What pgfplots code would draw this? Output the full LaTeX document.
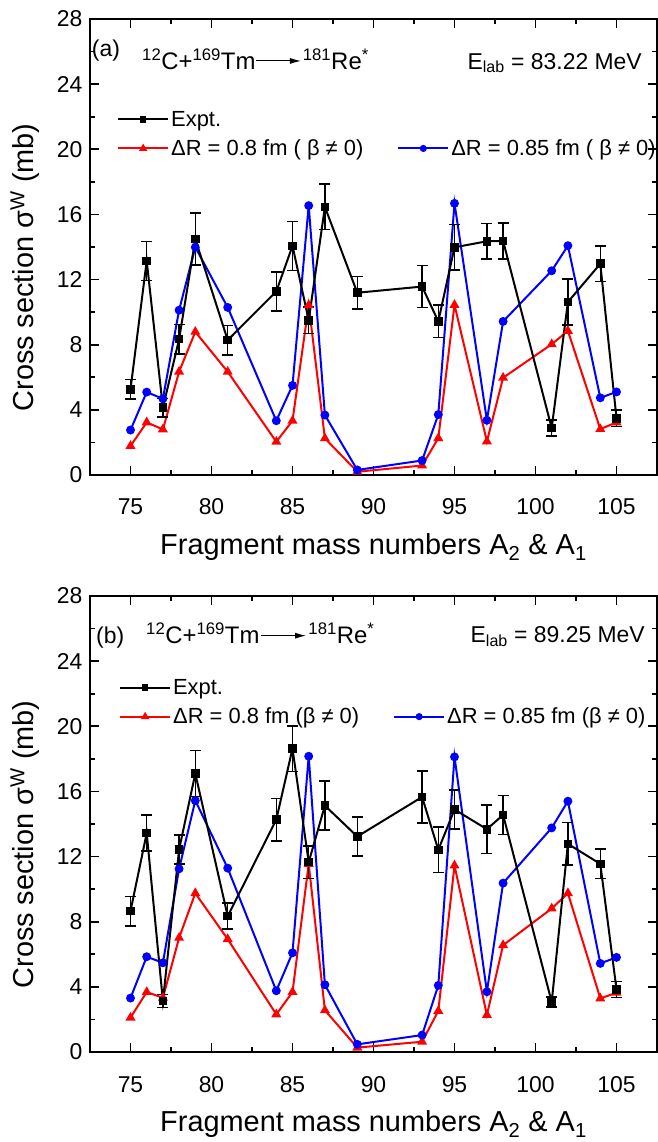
\documentclass[border=0pt]{standalone}
\usepackage{fontspec}
\setmainfont{Liberation Sans}
\usepackage{pgfplots}
\usepackage{pgfplotstable}
\pgfplotsset{compat=1.18}
\usetikzlibrary{arrows.meta}

% A: mass number, e: expt, ee: error, r: dR=0.8, b: dR=0.85
\pgfplotstableread{
A e ee r b
75 5.26 0.6 1.78 2.76
76 13.15 1.2 3.23 5.09
77 4.13 0.58 2.80 4.68
78 8.34 0.9 6.34 10.12
79 14.48 1.6 8.79 13.99
81 8.28 0.9 6.34 10.29
84 11.27 1.2 2.04 3.33
85 14.07 1.5 3.33 5.50
86 9.5 0.8 10.43 16.54
87 16.46 1.4 2.25 3.68
89 11.19 1.0 0.20 0.31
93 11.57 1.3 0.58 0.89
94 9.43 1.0 2.26 3.71
95 13.98 1.4 10.44 16.68
97 14.35 1.1 2.06 3.36
98 14.37 1.1 5.97 9.43
101 2.88 0.5 8.03 12.54
102 10.62 1.4 8.85 14.08
104 12.97 1.1 2.82 4.74
105 3.48 0.5 3.23 5.10
}\dataA

\pgfplotstableread{
A e ee r b
75 8.65 0.9 2.11 3.31
76 13.44 1.1 3.68 5.85
77 3.13 0.4 3.33 5.48
78 12.43 0.9 7.01 11.25
79 17.10 1.4 9.75 15.44
81 8.34 0.8 6.93 11.29
84 14.27 1.3 2.31 3.76
85 18.63 1.4 3.68 6.09
86 11.66 1.0 11.55 18.16
87 15.13 1.5 2.56 4.13
89 13.23 1.2 0.27 0.47
93 15.66 1.6 0.63 1.04
94 12.41 1.4 2.52 4.09
95 14.89 1.2 11.45 18.12
97 13.68 1.5 2.27 3.70
98 14.56 1.2 6.56 10.37
101 3.07 0.3 8.81 13.76
102 12.78 1.3 9.75 15.40
104 11.55 0.9 3.29 5.44
105 3.84 0.5 3.64 5.81
}\dataB

\tikzset{annot/.style={font=\fontsize{23}{27}\selectfont, inner sep=0pt},
         reac/.style={font=\fontsize{24}{28}\selectfont, inner sep=0pt}}
\pgfplotsset{
  myaxis/.style={
    scale only axis, width=567bp, height=456bp,
    xmin=72.5, xmax=107.5, ymin=0, ymax=28,
    xtick={75,80,...,105}, ytick={0,4,...,28},
    minor x tick num=1, minor y tick num=1,
    tick align=inside, xtick pos=both, ytick pos=both,
    xticklabel pos=lower, yticklabel pos=left,
    major tick length=9bp, minor tick length=5bp,
    axis line style={line width=1.8bp},
    tick style={line width=1.6bp, black},
    tick label style={font=\fontsize{23}{27}\selectfont},
    /pgf/number format/assume math mode=true,
    xticklabel style={anchor=base, yshift=-40bp},
    yticklabel style={anchor=east, xshift=-4bp},
    xlabel={Fragment mass numbers A\textsubscript{2} \& A\textsubscript{1}},
    ylabel={Cross section σ\textsuperscript{W} (mb)},
    xlabel style={font=\fontsize{29}{34}\selectfont, at={(axis description cs:0.5,-0.175)}, anchor=base},
    ylabel style={font=\fontsize{29}{34}\selectfont, at={(axis description cs:-0.1146,0.455)}, anchor=center},
    legend cell align=left,
    legend columns=2,
    legend style={draw=none, fill=none, inner sep=0pt, font=\fontsize{22}{26}\selectfont,
      nodes={inner sep=2bp}, /tikz/every even column/.append style={column sep=32bp}, row sep=8bp},
    legend image code/.code={\draw[mark repeat=2,mark phase=2,#1] plot coordinates {(0bp,0bp) (25bp,0bp) (50bp,0bp)};},
    clip=false,
  },
  expt/.style={black, line width=2bp, mark=square*, mark size=3.3bp, mark options={solid},
    error bars/y dir=both, error bars/y explicit,
    error bars/error bar style={line width=1.5bp, black},
    error bars/error mark options={rotate=90, mark size=5.5bp, line width=1.5bp, black}},
  redl/.style={red, line width=2bp, mark=triangle*, mark size=3.8bp},
  bluel/.style={blue, line width=2bp, mark=*, mark size=3.4bp},
}

\begin{document}
\begin{tikzpicture}
\useasboundingbox (0bp,0bp) rectangle (658bp,1142bp);

% ---------- panel (a) ----------
\begin{axis}[myaxis, at={(90bp,667bp)}, anchor=south west,
  legend style={at={(rel axis cs:0.0476,0.8026)}, anchor=north west}]
\addplot[forget plot, redl] table[x=A, y=r] {\dataA};
\addplot[forget plot, bluel] table[x=A, y=b] {\dataA};
\addplot[forget plot, expt] table[x=A, y=e, y error=ee] {\dataA};
\addlegendimage{black, line width=2bp, mark=square*, mark size=2.3bp}
\addlegendentry{Expt.}
\addlegendimage{empty legend}
\addlegendentry{}
\addlegendimage{red, line width=2bp, mark=triangle*, mark size=2.8bp}
\addlegendentry{ΔR = 0.8 fm ( β ≠ 0)}
\addlegendimage{blue, line width=2bp, mark=*, mark size=2.5bp}
\addlegendentry{ΔR = 0.85 fm ( β ≠ 0)}
\node[annot, anchor=base west] at (rel axis cs:0.003,0.918) {(a)};
\node[reac, anchor=base west] at (rel axis cs:0.0917,0.890) {\textsuperscript{12}C+\textsuperscript{169}Tm};
\draw[line width=1bp, -{Latex[length=11bp,width=6bp]}] (rel axis cs:0.293,0.908) -- (rel axis cs:0.372,0.908);
\node[reac, anchor=base west] at (rel axis cs:0.375,0.890) {\textsuperscript{181}Re\textsuperscript{*}};
\node[annot, anchor=base east] at (rel axis cs:0.9735,0.890) {E\textsubscript{lab} = 83.22 MeV};
\end{axis}

% ---------- panel (b) ----------
\begin{axis}[myaxis, at={(90bp,90bp)}, anchor=south west,
  legend style={at={(rel axis cs:0.051,0.822)}, anchor=north west}]
\addplot[forget plot, redl] table[x=A, y=r] {\dataB};
\addplot[forget plot, bluel] table[x=A, y=b] {\dataB};
\addplot[forget plot, expt] table[x=A, y=e, y error=ee] {\dataB};
\addlegendimage{black, line width=2bp, mark=square*, mark size=2.3bp}
\addlegendentry{Expt.}
\addlegendimage{empty legend}
\addlegendentry{}
\addlegendimage{red, line width=2bp, mark=triangle*, mark size=2.8bp}
\addlegendentry{ΔR = 0.8 fm (β ≠ 0)}
\addlegendimage{blue, line width=2bp, mark=*, mark size=2.5bp}
\addlegendentry{ΔR = 0.85 fm (β ≠ 0)}
\node[annot, anchor=base west] at (rel axis cs:0.0106,0.895) {(b)};
\node[reac, anchor=base west] at (rel axis cs:0.0988,0.895) {\textsuperscript{12}C+\textsuperscript{169}Tm};
\draw[line width=1bp, -{Latex[length=11bp,width=6bp]}] (rel axis cs:0.302,0.913) -- (rel axis cs:0.381,0.913);
\node[reac, anchor=base west] at (rel axis cs:0.385,0.895) {\textsuperscript{181}Re\textsuperscript{*}};
\node[annot, anchor=base east] at (rel axis cs:0.9788,0.897) {E\textsubscript{lab} = 89.25 MeV};
\end{axis}
\end{tikzpicture}
\end{document}
